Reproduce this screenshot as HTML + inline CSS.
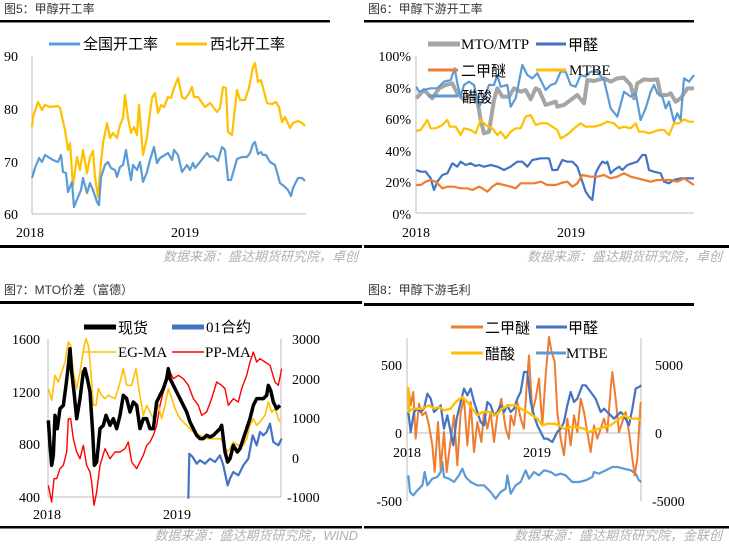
<!DOCTYPE html>
<html><head><meta charset="utf-8"><style>
html,body{margin:0;padding:0;background:#fff;}
svg{display:block;}
.t{font-family:"Liberation Sans","Noto Sans CJK SC",sans-serif;font-size:12px;fill:#333;}
.s{font-family:"Liberation Sans","Noto Sans CJK SC",sans-serif;font-size:13px;fill:#b0b0b0;font-style:italic;}
.n{font-family:"Liberation Serif","Noto Serif CJK SC",serif;font-size:14px;fill:#000;}
.l{font-family:"Liberation Sans","Noto Sans CJK SC",sans-serif;font-size:15px;fill:#000;}
.lm{font-family:"Liberation Serif",serif;font-size:15px;fill:#000;}
polyline{fill:none;stroke-linejoin:round;vector-effect:non-scaling-stroke;}
</style></head><body>
<svg width="729" height="544" viewBox="0 0 729 544" xmlns="http://www.w3.org/2000/svg">
<!-- ===== Chart 5 ===== -->
<text class="t" x="4" y="13">图5：甲醇开工率</text>
<rect x="0" y="20" width="330" height="2.5" fill="#000"/>
<rect x="0" y="245" width="362" height="3" fill="#000"/>
<text class="s" x="358" y="261" text-anchor="end">数据来源：盛达期货研究院，卓创</text>
<line x1="32" y1="56" x2="32" y2="214" stroke="#bbb"/>
<line x1="32" y1="214" x2="306" y2="214" stroke="#bbb"/>
<text class="n" x="4" y="61">90</text><text class="n" x="4" y="114">80</text><text class="n" x="4" y="167">70</text><text class="n" x="4" y="219">60</text>
<text class="n" x="16" y="237">2018</text><text class="n" x="171" y="237">2019</text>
<line x1="49" y1="44" x2="80" y2="44" stroke="#5b9bd5" stroke-width="3"/><text class="l" x="83" y="49">全国开工率</text>
<line x1="176" y1="44" x2="207" y2="44" stroke="#ffc000" stroke-width="3"/><text class="l" x="210" y="49">西北开工率</text>
<polyline stroke="#ffc000" stroke-width="2.2" points="32,127 33,117 38,102 42,110 45,105 50,107 58,106 60,108 65,130 68,150 70,143 73,185 77,157 80,170 83,150 87,173 90,157 93,151 95,177 98,197 100,173 103,143 107,123 110,138 113,133 117,138 120,125 123,118 125,95 128,118 131,133 134,127 137,135 139,105 143,155 147,137 152,98 155,93 158,113 161,105 164,107 168,97 171,98 174,88 178,78 182,97 185,99 188,95 192,87 194,97 198,97 205,107 210,103 217,112 220,108 223,87 226,88 228,132 232,135 237,90 240,100 245,100 249,88 253,67 255,63 258,82 261,80 267,103 272,104 276,102 279,107 282,122 285,117 290,128 293,123 298,121 302,123 305,126"/>
<polyline stroke="#5b9bd5" stroke-width="2.2" points="32,178 35,168 39,158 42,162 45,155 53,160 58,162 61,155 63,172 66,173 68,192 72,182 74,207 78,197 81,190 83,178 87,193 90,183 93,190 97,202 99,205 101,177 105,165 108,162 111,168 115,170 117,177 120,167 123,165 126,150 128,163 131,180 133,165 137,170 140,162 143,182 147,172 150,160 154,147 157,163 160,158 165,155 168,153 172,160 174,150 178,155 182,172 187,165 190,170 193,163 195,168 200,162 207,153 210,157 213,156 218,161 222,147 225,150 228,180 231,180 237,159 242,157 247,157 250,153 253,144 255,142 258,154 261,152 263,155 266,155 270,162 275,165 280,183 285,187 288,190 291,196 293,188 298,178 302,178 305,181"/>

<!-- ===== Chart 6 ===== -->
<text class="t" x="368" y="13">图6：甲醇下游开工率</text>
<rect x="364" y="20" width="330" height="2.5" fill="#000"/>
<rect x="364" y="245" width="365" height="3" fill="#000"/>
<text class="s" x="722" y="261" text-anchor="end">数据来源：盛达期货研究院，卓创</text>
<line x1="416" y1="56" x2="416" y2="213" stroke="#bbb"/>
<line x1="416" y1="213" x2="694" y2="213" stroke="#bbb"/>
<text class="n" x="411" y="61" text-anchor="end">100%</text><text class="n" x="411" y="93" text-anchor="end">80%</text><text class="n" x="411" y="124" text-anchor="end">60%</text><text class="n" x="411" y="156" text-anchor="end">40%</text><text class="n" x="411" y="187" text-anchor="end">20%</text><text class="n" x="411" y="219" text-anchor="end">0%</text>
<text class="n" x="402" y="237">2018</text><text class="n" x="557" y="237">2019</text>
<g transform="translate(364,0) scale(0.33333)">
<polyline stroke="#a5a5a5" stroke-width="4" points="157,295 180,270 205,295 225,265 245,255 265,250 280,280 300,300 320,285 340,300 350,360 360,400 375,395 390,300 400,265 415,290 435,290 450,265 470,275 485,270 500,298 515,265 525,270 545,315 560,310 575,305 580,320 600,315 620,300 640,285 660,310 670,240 690,243 700,240 720,235 740,245 760,235 780,233 800,255 810,295 820,250 840,238 860,240 880,238 890,285 910,285 920,280 935,305 950,295 970,265 990,265"/>
<polyline stroke="#5b9bd5" stroke-width="2.2" points="157,260 165,275 180,270 200,265 220,265 240,245 260,240 272,205 280,250 290,290 300,255 315,245 330,255 345,320 360,295 375,255 390,255 400,225 410,260 430,255 440,320 455,295 475,195 490,225 505,235 520,220 530,240 545,270 560,255 575,250 590,215 605,215 620,255 635,260 650,225 665,230 680,215 700,215 720,240 740,325 760,350 780,275 800,290 815,280 830,360 845,325 860,275 870,255 880,280 895,290 905,325 915,305 930,365 940,340 950,360 960,235 975,245 990,225"/>
<polyline stroke="#ffc000" stroke-width="2.2" points="157,393 170,390 190,360 200,385 215,385 235,375 250,360 258,380 275,380 290,405 300,385 320,390 335,400 350,360 365,375 385,385 400,405 410,395 425,415 440,395 455,385 470,385 485,350 500,345 515,375 530,370 550,370 565,380 580,390 590,415 600,410 615,400 630,385 650,370 665,380 690,380 710,375 730,365 750,370 765,385 780,380 800,385 815,370 825,395 840,395 855,400 870,395 885,390 900,390 915,405 930,370 945,370 960,358 975,365 990,365"/>
<polyline stroke="#4472c4" stroke-width="2.2" points="157,510 170,515 185,515 200,535 210,570 220,545 235,525 250,520 265,490 280,500 290,485 305,495 320,490 335,498 345,495 360,500 380,495 400,500 420,510 440,500 460,485 475,485 490,500 505,480 530,475 555,475 565,510 580,510 595,480 610,485 625,485 640,500 650,530 665,575 675,590 685,600 695,520 705,500 715,485 725,490 730,485 740,520 750,510 765,500 775,510 790,495 805,490 820,485 835,465 845,465 855,510 870,515 890,520 900,545 915,550 930,540 950,535 965,535 990,535"/>
<polyline stroke="#ed7d31" stroke-width="2.2" points="157,555 170,555 185,545 200,540 215,545 235,565 250,560 270,560 290,565 310,565 325,570 345,560 355,565 370,575 385,560 400,550 420,555 440,560 455,565 470,550 490,550 510,550 530,545 550,555 575,555 595,548 610,545 625,560 640,550 655,525 680,530 700,530 720,525 740,535 760,530 780,520 800,530 820,535 840,540 860,545 880,540 900,540 920,540 940,545 960,535 975,545 990,555"/>
</g>
<line x1="428" y1="44" x2="460" y2="44" stroke="#a5a5a5" stroke-width="5"/><text class="lm" x="461" y="49">MTO/MTP</text>
<line x1="536" y1="44" x2="566" y2="44" stroke="#4472c4" stroke-width="3"/><text class="l" x="568" y="50">甲醛</text>
<line x1="428" y1="70" x2="458" y2="70" stroke="#ed7d31" stroke-width="3"/><text class="l" x="461" y="76">二甲醚</text>
<line x1="536" y1="70" x2="566" y2="70" stroke="#ffc000" stroke-width="3"/><text class="lm" x="569" y="75">MTBE</text>
<line x1="428" y1="96" x2="458" y2="96" stroke="#5b9bd5" stroke-width="3"/><text class="l" x="462" y="102">醋酸</text>

<!-- ===== Chart 7 ===== -->
<text class="t" x="4" y="294">图7：MTO价差（富德）</text>
<rect x="0" y="301" width="362" height="3" fill="#000"/>
<rect x="0" y="526" width="362" height="2.5" fill="#000"/>
<text class="s" x="358" y="540" text-anchor="end">数据来源：盛达期货研究院，WIND</text>
<line x1="48" y1="339" x2="48" y2="497" stroke="#bbb"/>
<line x1="48" y1="497" x2="281" y2="497" stroke="#bbb"/>
<line x1="281" y1="339" x2="281" y2="497" stroke="#bbb"/>
<text class="n" x="40" y="344" text-anchor="end">1600</text><text class="n" x="40" y="397" text-anchor="end">1200</text><text class="n" x="40" y="449" text-anchor="end">800</text><text class="n" x="40" y="502" text-anchor="end">400</text>
<text class="n" x="292" y="344">3000</text><text class="n" x="292" y="384">2000</text><text class="n" x="292" y="423">1000</text><text class="n" x="292" y="463">0</text><text class="n" x="287" y="502">-1000</text>
<text class="n" x="33" y="519">2018</text><text class="n" x="163" y="519">2019</text>
<g transform="translate(0,272) scale(0.33333)">
<polyline stroke="#ff0000" stroke-width="1.4" points="145,640 155,690 162,620 170,620 180,590 190,580 200,540 205,440 212,440 220,500 230,540 240,560 250,520 260,580 270,600 275,630 282,700 290,660 300,580 315,530 330,560 345,540 360,540 375,530 385,510 395,570 410,590 420,570 430,550 440,520 450,510 460,490 470,460 480,400 490,360 500,330 510,300 520,320 535,310 550,320 565,340 580,380 595,400 605,430 620,420 635,380 650,330 665,340 675,350 685,400 700,380 715,390 725,350 740,310 750,270 760,240 770,270 780,260 795,270 810,280 825,330 835,340 845,290"/>
<polyline stroke="#ffc000" stroke-width="1.6" points="145,350 155,385 165,310 175,330 185,300 195,270 205,210 212,220 220,300 230,350 240,300 252,225 258,200 265,220 272,290 280,400 288,400 295,350 305,370 315,380 325,370 345,380 355,350 370,290 380,340 395,340 408,290 418,360 430,430 440,400 450,420 460,440 475,400 485,440 495,400 505,350 512,370 525,410 540,440 560,460 580,480 600,490 620,500 640,500 660,500 670,510 680,540 690,530 700,510 715,520 730,520 740,500 750,460 760,440 770,460 780,450 795,430 805,390 815,420 825,410 835,440 840,450"/>
<polyline stroke="#4472c4" stroke-width="2.2" points="565,680 568,545 578,555 590,575 600,565 615,575 630,560 645,570 660,550 670,580 683,640 690,620 700,600 715,610 730,580 745,560 758,490 770,520 780,480 790,490 800,480 810,455 820,510 835,520 845,500"/>
<polyline stroke="#000" stroke-width="3.5" points="145,445 150,520 155,580 160,550 165,430 172,470 180,410 190,400 198,340 205,280 210,230 215,300 222,360 230,440 240,380 250,300 255,290 262,320 270,360 278,480 283,580 290,570 300,470 310,460 318,430 330,460 340,440 350,470 360,430 370,370 380,380 390,420 400,390 410,400 420,470 430,440 440,440 450,470 460,470 470,390 480,370 490,350 500,320 505,290 510,320 520,340 530,360 540,380 550,400 560,420 570,450 580,470 590,490 600,500 610,500 620,490 630,495 640,490 650,480 660,470 665,460 675,540 683,570 690,560 700,520 712,540 720,530 730,500 740,470 750,440 760,400 770,380 780,380 790,380 800,370 805,340 812,355 820,390 830,410 840,400"/>
</g>
<line x1="84" y1="327" x2="116" y2="327" stroke="#000" stroke-width="5"/><text class="l" x="118" y="333">现货</text>
<line x1="172" y1="327" x2="204" y2="327" stroke="#4472c4" stroke-width="5"/><text class="lm" x="206" y="332">01合约</text>
<line x1="84" y1="352" x2="116" y2="352" stroke="#ffc000" stroke-width="1.5"/><text class="lm" x="118" y="357">EG-MA</text>
<line x1="172" y1="352" x2="204" y2="352" stroke="#ff0000" stroke-width="1.5"/><text class="lm" x="205" y="357">PP-MA</text>

<!-- ===== Chart 8 ===== -->
<text class="t" x="368" y="294">图8：甲醇下游毛利</text>
<rect x="364" y="303" width="330" height="3" fill="#000"/>
<rect x="364" y="526" width="365" height="2.5" fill="#000"/>
<text class="s" x="722" y="540" text-anchor="end">数据来源：盛达期货研究院，金联创</text>
<line x1="407" y1="338" x2="407" y2="501" stroke="#bbb"/>
<line x1="641" y1="338" x2="641" y2="501" stroke="#bbb"/>
<line x1="407" y1="433" x2="641" y2="433" stroke="#bbb"/>
<text class="n" x="402" y="370" text-anchor="end">500</text><text class="n" x="402" y="438" text-anchor="end">0</text><text class="n" x="402" y="506" text-anchor="end">-500</text>
<text class="n" x="655" y="370">5000</text><text class="n" x="655" y="438">0</text><text class="n" x="652" y="506">-5000</text>
<text class="n" x="393" y="457">2018</text><text class="n" x="523" y="457">2019</text>
<g transform="translate(364,272) scale(0.33333)">
<polyline stroke="#5b9bd5" stroke-width="2.2" points="133,610 138,660 148,670 160,655 175,640 182,600 190,640 205,620 220,615 230,600 235,570 240,615 255,620 270,630 285,610 295,590 305,615 320,630 340,640 360,640 380,660 395,680 410,660 425,650 430,610 440,665 455,640 470,630 485,595 495,620 510,600 525,610 540,595 560,600 575,610 590,605 605,610 625,630 645,630 665,625 685,615 690,600 705,605 725,595 745,585 760,585 780,590 800,595 815,605 825,625 832,630"/>
<polyline stroke="#ed7d31" stroke-width="2" points="133,345 140,400 148,360 155,500 165,395 175,430 185,420 195,460 205,520 212,600 222,450 230,590 240,480 248,600 258,520 270,430 280,580 290,420 300,380 310,520 320,390 330,540 340,450 352,510 360,420 370,470 380,420 390,510 400,430 412,380 425,470 435,500 440,430 450,460 460,390 470,440 480,470 488,340 495,250 505,420 515,380 525,320 535,460 545,310 555,195 563,240 572,270 580,420 590,500 600,550 610,440 620,520 630,430 640,480 650,380 660,420 670,480 680,540 690,460 700,500 710,470 720,440 730,480 740,350 745,300 755,380 765,480 775,450 785,420 795,480 805,560 812,610 820,560 830,390"/>
<polyline stroke="#4472c4" stroke-width="2.2" points="133,420 140,480 150,420 160,410 170,420 180,410 190,365 200,380 210,420 220,410 230,400 240,470 250,430 258,470 268,520 278,440 290,390 300,350 310,370 320,350 330,390 340,420 350,450 360,460 370,390 380,400 390,430 400,420 410,400 420,420 430,400 440,420 450,410 460,380 470,360 480,300 490,300 500,390 510,430 520,460 530,480 540,500 550,500 565,510 580,480 590,470 600,450 610,400 620,360 630,390 640,380 655,340 665,340 680,360 695,380 710,420 720,410 730,420 740,430 750,440 760,430 770,420 780,430 795,460 805,410 815,350 825,345 832,340"/>
<polyline stroke="#ffc000" stroke-width="2.4" points="133,345 135,420 145,410 160,410 175,410 195,400 210,410 225,405 240,415 260,410 275,390 295,375 310,390 325,410 340,430 355,420 375,420 395,430 415,410 435,400 455,400 470,410 490,420 505,430 520,440 535,460 550,455 570,455 585,460 600,470 620,465 640,465 660,470 675,480 690,475 705,470 720,465 740,460 760,445 780,430 800,440 820,440 832,445"/>
</g>
<line x1="451" y1="327" x2="483" y2="327" stroke="#ed7d31" stroke-width="3"/><text class="l" x="485" y="333">二甲醚</text>
<line x1="536" y1="327" x2="567" y2="327" stroke="#4472c4" stroke-width="3"/><text class="l" x="568" y="333">甲醛</text>
<line x1="451" y1="353" x2="483" y2="353" stroke="#ffc000" stroke-width="3"/><text class="l" x="485" y="359">醋酸</text>
<line x1="536" y1="353" x2="566" y2="353" stroke="#5b9bd5" stroke-width="3"/><text class="lm" x="566" y="358">MTBE</text>
</svg>
</body></html>
